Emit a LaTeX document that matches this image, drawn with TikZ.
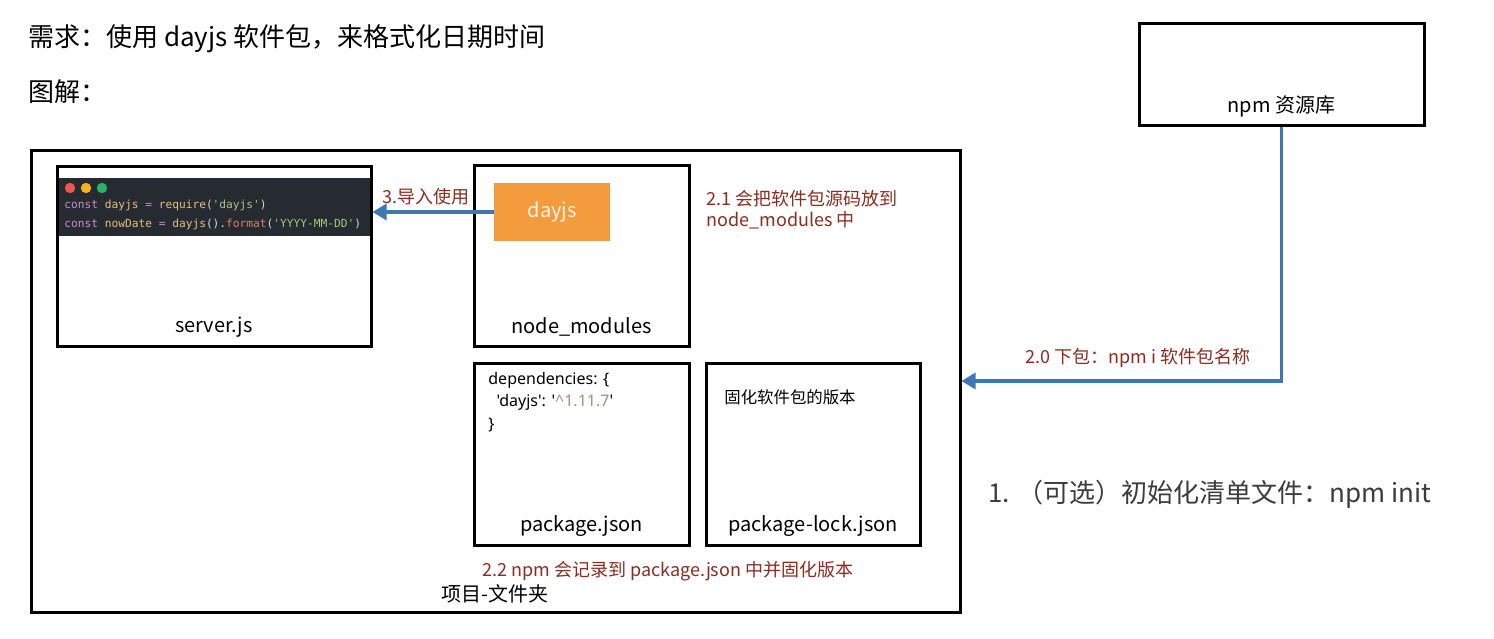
\documentclass[tikz,border=0pt]{standalone}
\usepackage{fontspec}
\setmainfont{Noto Sans CJK SC}
\newfontfamily\codefont{DejaVu Sans Mono}
\newfontfamily\depsfont{Noto Sans}
\usetikzlibrary{arrows.meta,fit,positioning}
\definecolor{redtxt}{HTML}{8E2B1F}
\definecolor{arrblue}{HTML}{3E77B6}
\definecolor{codebg}{HTML}{262A31}
\definecolor{ckw}{HTML}{C98FC7}
\definecolor{cid}{HTML}{E6C07B}
\definecolor{cstr}{HTML}{A9C77E}
\definecolor{cfn}{HTML}{E37B6C}
\definecolor{cpl}{HTML}{D8D8D8}
\definecolor{dayorange}{HTML}{F49B3D}
\definecolor{vertan}{HTML}{B08D72}
\tikzset{
  box/.style={draw=black, line width=1.5pt, inner sep=0pt},
  lbl/.style={font=\fontsize{10}{12}\selectfont, text=black},
  redlbl/.style={font=\fontsize{9}{10.5}\selectfont, text=redtxt},
  arr/.style={draw=arrblue, line width=1.6pt, -{Triangle[length=7pt,width=8pt]}},
  codeline/.style={font=\codefont\fontsize{5.6}{6.5}\selectfont, anchor=west, inner sep=0pt}
}
\begin{document}
\begin{tikzpicture}[x=0.5pt,y=-0.5pt]
\useasboundingbox[fill=white] (0,0) rectangle (1494,638);

% headings
\node[anchor=west, inner sep=0pt, font=\fontsize{13}{15}\selectfont] (title) at (28,39) {需求：使用 dayjs 软件包，来格式化日期时间};
\node[anchor=west, inner sep=0pt, font=\fontsize{13}{15}\selectfont] (tujie) at (28,92) {图解：};

% boxes
\node[box, fit={(31,150) (960,612)}] (project) {};
\node[box, fit={(57,166) (371,346)}] (server) {};
\node[box, fit={(474,165) (689,346)}] (nodemod) {};
\node[box, fit={(474,363) (689,545)}] (pkg) {};
\node[box, fit={(706,363) (920,545)}] (lock) {};
\node[box, fit={(1139,23) (1424,125)}] (npm) {};

% code screenshot
\node[fill=codebg, inner sep=0pt, fit={(58.5,178) (369.5,236)}] (code) {};
\fill[fill={rgb,255:red,238;green,86;blue,80}] (70,188) circle (5.2);
\fill[fill={rgb,255:red,246;green,178;blue,35}] (86,188) circle (5.2);
\fill[fill={rgb,255:red,41;green,180;blue,100}] (102,188) circle (5.2);
\node[codeline] (c1) at (64,205) {\textcolor{ckw}{const} \textcolor{cid}{dayjs} \textcolor{ckw}{=} \textcolor{cid}{require}\textcolor{cpl}{(}\textcolor{cstr}{'dayjs'}\textcolor{cpl}{)}};
\node[codeline] (c2) at (64,224) {\textcolor{ckw}{const} \textcolor{cid}{nowDate} \textcolor{ckw}{=} \textcolor{cid}{dayjs}\textcolor{cpl}{().}\textcolor{cfn}{format}\textcolor{cpl}{(}\textcolor{cstr}{'YYYY-MM-DD'}\textcolor{cpl}{)}};

% dayjs orange box
\node[fill=dayorange, inner sep=0pt, fit={(494,183) (610,241)}] (dayjs) {};
\node[font=\fontsize{10}{12}\selectfont, text=white!92!orange] at (dayjs.center) {dayjs};

% box labels
\node[lbl] at (214,327) {server.js};
\node[lbl] at (581.5,327) {node\_modules};
\node[lbl] at (581.5,526) {package.json};
\node[lbl] at (813,526) {package-lock.json};
\node[lbl] at (1281.5,106) {npm 资源库};
\node[lbl] at (495,594) {项目-文件夹};

% package.json content
\node[anchor=north west, inner sep=0pt, align=left, font=\depsfont\fontsize{8}{11.2}\selectfont] (deps) at (488,372) {dependencies: \{\\[0pt]\ \ \symbol{39}dayjs\symbol{39}: \symbol{39}\textcolor{vertan}{\textasciicircum 1.11.7}\symbol{39}\\\}};
\node[anchor=west, inner sep=0pt, font=\fontsize{8.2}{10}\selectfont] (fix) at (724,397) {固化软件包的版本};

% connectors
\draw[arr] (dayjs.west) -- (dayjs.west -| server.east);
\draw[arr] (npm.south) |- (project.east);

% red labels
\node[redlbl] at (426,197) {3.导入使用};
\node[redlbl, anchor=north west, align=left, inner sep=0pt] at (706,190) {2.1 会把软件包源码放到\\node\_modules 中};
\node[redlbl] at (668,571) {2.2 npm 会记录到 package.json 中并固化版本};
\node[redlbl] at (1138,358) {2.0 下包：npm i 软件包名称};

% optional step
\node[anchor=west, inner sep=0pt, text={rgb,255:red,60;green,60;blue,60}, font=\fontsize{13}{15}\selectfont] (step1) at (988,494) {1. （可选）初始化清单文件：npm init};
\end{tikzpicture}
\end{document}
